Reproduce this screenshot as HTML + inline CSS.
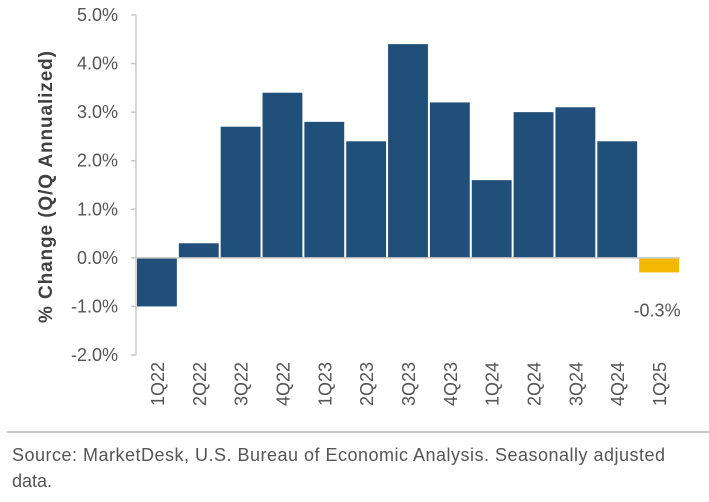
<!DOCTYPE html>
<html><head><meta charset="utf-8"><style>
body{margin:0;background:#fff;width:709px;height:497px;overflow:hidden;font-family:"Liberation Sans",Arial,sans-serif;}
</style></head><body>
<svg id="chart" width="709" height="497" xmlns="http://www.w3.org/2000/svg">
<text transform="translate(52,187) rotate(-90)" text-anchor="middle" font-size="19" font-weight="bold" fill="#404040" textLength="272">% Change (Q/Q Annualized)</text>
<g id="yaxis"></g>
<g id="bars"></g>
<g id="xaxis"></g>
<line x1="7" y1="432" x2="709" y2="432" stroke="#c8c8c8" stroke-width="2"/>
<text x="12" y="461" font-size="18" fill="#555" textLength="653">Source: MarketDesk, U.S. Bureau of Economic Analysis. Seasonally adjusted</text>
<text x="12" y="487" font-size="18" fill="#555">data.</text>
</svg>
<script>
const categories=["1Q22","2Q22","3Q22","4Q22","1Q23","2Q23","3Q23","4Q23","1Q24","2Q24","3Q24","4Q24","1Q25"];
const values=[-1.0,0.3,2.7,3.4,2.8,2.4,4.4,3.2,1.6,3.0,3.1,2.4,-0.3];
const yTicks=[-2,-1,0,1,2,3,4,5];
const NS="http://www.w3.org/2000/svg";
const x0=136,x1=680,yTop=15,yBot=355,yMin=-2,yMax=5;
const y=v=>yBot-(v-yMin)/(yMax-yMin)*(yBot-yTop);
const step=(x1-x0)/categories.length;
const xs=i=>x0+i*step;
function mk(tag,attrs,parent){const e=document.createElementNS(NS,tag);for(const k in attrs)e.setAttribute(k,attrs[k]);parent.appendChild(e);return e;}
const ya=document.getElementById('yaxis'),bg=document.getElementById('bars'),xa=document.getElementById('xaxis');
mk('line',{x1:x0,y1:yTop,x2:x0,y2:yBot,stroke:'#c8c8c8','stroke-width':1.5},ya);
yTicks.forEach(t=>{
  mk('line',{x1:x0-5,y1:y(t),x2:x0,y2:y(t),stroke:'#c8c8c8','stroke-width':1.5},ya);
  const tx=mk('text',{x:x0-18,y:y(t)+6,'text-anchor':'end','font-size':18,fill:'#555'},ya);
  
  
  tx.textContent=t.toFixed(1)+'%';
});
values.forEach((v,i)=>{
  const last=i===values.length-1;
  const r=mk('rect',{x:xs(i)+1,y:Math.min(y(v),y(0)),width:step-2,height:Math.abs(y(v)-y(0)),fill:last?'#f5b800':'#204f7a'},bg);
  
  
  const t=mk('text',{transform:`translate(${xs(i)+step/2+7},406) rotate(-90)`,'font-size':18,fill:'#555'},xa);
  
  
  t.textContent=categories[i];
});
mk('line',{x1:x0,y1:y(0),x2:x1,y2:y(0),stroke:'#c8c8c8','stroke-width':1.5},xa);
const li=values.length-1;
const lbl=mk('text',{x:xs(li)+step/2-2,y:y(values[li])+44,'text-anchor':'middle','font-size':18,fill:'#555'},bg);


lbl.textContent=values[li].toFixed(1)+'%';
</script>
</body></html>
